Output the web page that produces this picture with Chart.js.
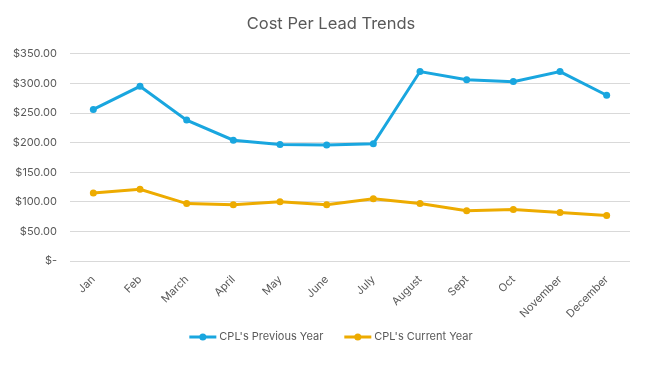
<!DOCTYPE html>
<html>
<head>
<meta charset="utf-8">
<script src="https://cdn.jsdelivr.net/npm/chart.js@4"></script>
<style>
html,body{margin:0;padding:0;background:#fff;}
#wrap{width:650px;height:368px;position:relative;}
</style>
</head>
<body>
<div id="wrap"><canvas id="c" width="650" height="368"></canvas></div>
<script>
const categories = ["Jan","Feb","March","April","May","June","July","August","Sept","Oct","November","December"];
const previousYear = [256, 295, 238, 204, 197, 196, 198, 320, 306, 303, 320, 280];
const currentYear = [115, 121, 97, 95, 100, 95, 105, 97, 85, 87, 82, 77];
const seriesNames = ["CPL's Previous Year", "CPL's Current Year"];
const yTicks = [0, 50, 100, 150, 200, 250, 300, 350];

const BLUE = '#19A6DF';
const ORANGE = '#EDAB00';
const TXT = '#595959';
const FONT = 'Inter, "Open Sans", sans-serif';

function fmt(v) {
  if (v === 0) return '$-';
  return '$' + v.toFixed(2);
}

const shiftTitle = {
  id: 'shiftTitle',
  afterLayout(chart) {
    const b = chart.titleBlock;
    if (b) { b.left += 16; b.right += 16; }
  }
};

// Legend drawn from the chart's own datasets
const bottomLegend = {
  id: 'bottomLegend',
  afterDraw(chart) {
    const ctx = chart.ctx;
    const y = 337, lineW = 27, textGap = 3, itemGap = 21, centerX = 331;
    ctx.save();
    ctx.font = '11px ' + FONT;
    const items = chart.data.datasets.map(d => ({ d, w: lineW + textGap + ctx.measureText(d.label).width }));
    const total = items.reduce((s, it) => s + it.w, 0) + itemGap * (items.length - 1);
    let x = centerX - total / 2;
    items.forEach(it => {
      const c = it.d.borderColor;
      ctx.strokeStyle = c; ctx.lineWidth = 3;
      ctx.beginPath(); ctx.moveTo(x, y); ctx.lineTo(x + lineW, y); ctx.stroke();
      ctx.fillStyle = c;
      ctx.beginPath(); ctx.arc(x + lineW / 2, y, 3.5, 0, Math.PI * 2); ctx.fill();
      ctx.fillStyle = TXT; ctx.textBaseline = 'middle'; ctx.textAlign = 'left';
      ctx.fillText(it.d.label, x + lineW + textGap, y);
      x += it.w + itemGap;
    });
    ctx.restore();
  }
};

new Chart(document.getElementById('c'), {
  type: 'line',
  data: {
    labels: categories,
    datasets: [
      { label: seriesNames[0], data: previousYear, borderColor: BLUE, backgroundColor: BLUE,
        borderWidth: 3, pointRadius: 3.5, pointHoverRadius: 3.5, pointBackgroundColor: BLUE, pointBorderWidth: 0, tension: 0 },
      { label: seriesNames[1], data: currentYear, borderColor: ORANGE, backgroundColor: ORANGE,
        borderWidth: 3, pointRadius: 3.5, pointHoverRadius: 3.5, pointBackgroundColor: ORANGE, pointBorderWidth: 0, tension: 0 }
    ]
  },
  plugins: [shiftTitle, bottomLegend],
  options: {
    responsive: false,
    animation: false,
    devicePixelRatio: 1,
    layout: { padding: { left: 0, right: 20, top: 0, bottom: 45 } },
    plugins: {
      title: {
        display: true, text: 'Cost Per Lead Trends', color: TXT,
        font: { family: FONT, size: 16.5, weight: 'normal' },
        padding: { top: 14, bottom: 20 }
      },
      legend: { display: false },
      tooltip: { enabled: false }
    },
    scales: {
      x: {
        offset: true,
        grid: { display: false },
        border: { display: false },
        ticks: { color: TXT, font: { family: FONT, size: 11 }, minRotation: 45, maxRotation: 45, padding: 4 },
        afterFit(s) { s.height = 62; }
      },
      y: {
        min: 0, max: 350,
        afterBuildTicks(s) { s.ticks = yTicks.map(v => ({ value: v })); },
        grid: { color: '#d9d9d9', lineWidth: 1, drawTicks: false },
        border: { display: false },
        ticks: { color: TXT, font: { family: FONT, size: 11 }, padding: 13, callback: v => fmt(v) },
        afterFit(s) { s.width = 70; }
      }
    }
  }
});
</script>
</body>
</html>
